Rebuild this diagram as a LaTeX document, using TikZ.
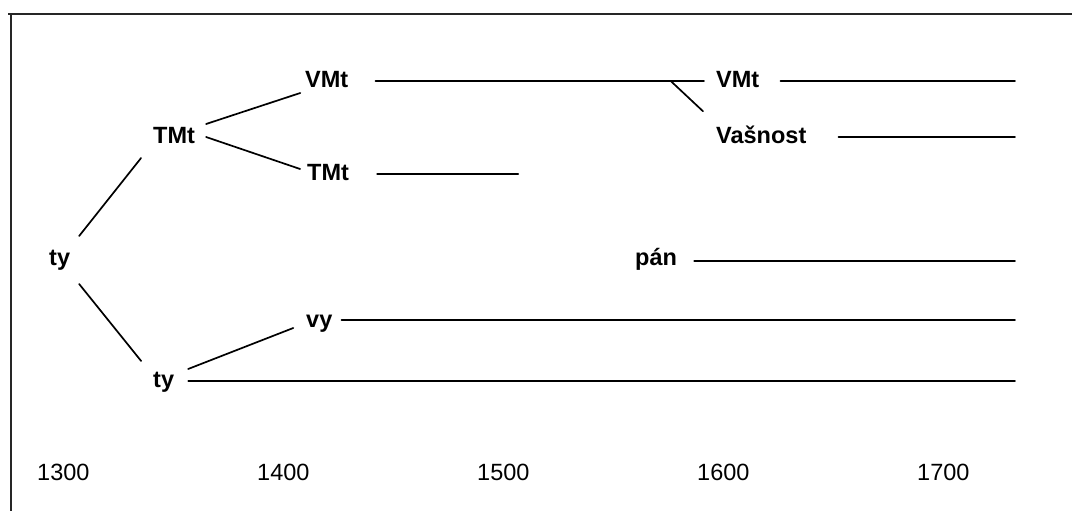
\documentclass[tikz,border=0pt]{standalone}
\usepackage{fontspec}
\setmainfont{Liberation Sans}
\usetikzlibrary{calc}
\tikzset{
  lbl/.style={anchor=base west, inner sep=0pt, text height=16.5pt, text depth=5pt,
    font=\fontsize{23.5}{28}\selectfont\bfseries},
  yr/.style={anchor=base west, inner sep=0pt, font=\fontsize{23.5}{28}\selectfont},
  link/.style={line width=1.7pt, line cap=round},
  frame/.style={line width=1.7pt, draw=black!85}
}
\begin{document}
\begin{tikzpicture}[x=1pt,y=-1pt]
\useasboundingbox (0,0) rectangle (1072,511);
\draw[frame] (8,14) -- (1072,14);
\draw[frame] (11,14) -- (11,511);
\coordinate (R) at (1015,0);
% nodes
\node[lbl] (root) at (49,265) {ty};
\node[lbl] (tmt) at (153,143) {TMt};
\node[lbl] (vmt) at (305,88) {VMt};
\node[lbl] (tmtb) at (307,180) {TMt};
\node[lbl] (tyb) at (153,387) {ty};
\node[lbl] (vy) at (306,327) {vy};
\node[lbl] (vmtb) at (716,88) {VMt};
\node[lbl] (vas) at (716,143) {Va\v{s}nost};
\node[lbl] (pan) at (635,265) {p\'an};
% years
\node[yr] (y1300) at (37,480) {1300};
\node[yr] (y1400) at (257,480) {1400};
\node[yr] (y1500) at (477,480) {1500};
\node[yr] (y1600) at (697,480) {1600};
\node[yr] (y1700) at (917,480) {1700};
% tree connectors
\draw[link] ($(root.center)+(19.5,-23.25)$) -- ($(tmt.center)+(-33,20.75)$);
\draw[link] ($(root.center)+(19.5,24.75)$) -- ($(tyb.center)+(-22.5,-20.25)$);
\draw[link] ($(tmt.center)+(32,-13.25)$) -- ($(vmt.center)+(-26.5,10.75)$);
\draw[link] ($(tmt.center)+(32,-0.25)$) -- ($(tmtb.center)+(-28,-5.25)$);
\draw[link] ($(tyb.center)+(24.5,-12.25)$) -- ($(vy.center)+(-26,6.75)$);
% time lines
\draw[link] ($(vmt.east)+(27,-1)$) -- ($(vmtb.west)+(-12,-1)$);
\coordinate (split) at ($(vmtb.west)+(-45,-1)$);
\draw[link] (split) -- ($(vas.west)+(-13,-26)$);
\draw[link] ($(vmtb.east)+(21,-1)$) -- ($(vmtb.east -| R)+(0,-1)$);
\draw[link] ($(vas.east)+(32,0)$) -- (vas.east -| R);
\draw[link] ($(tmtb.east)+(28,0)$) -- ($(tmtb.east)+(169,0)$);
\draw[link] ($(pan.east)+(17,1.5)$) -- ($(pan.east -| R)+(0,1.5)$);
\draw[link] ($(vy.east)+(9,-1)$) -- ($(vy.east -| R)+(0,-1)$);
\draw[link] ($(tyb.east)+(14,0)$) -- (tyb.east -| R);
\end{tikzpicture}
\end{document}
